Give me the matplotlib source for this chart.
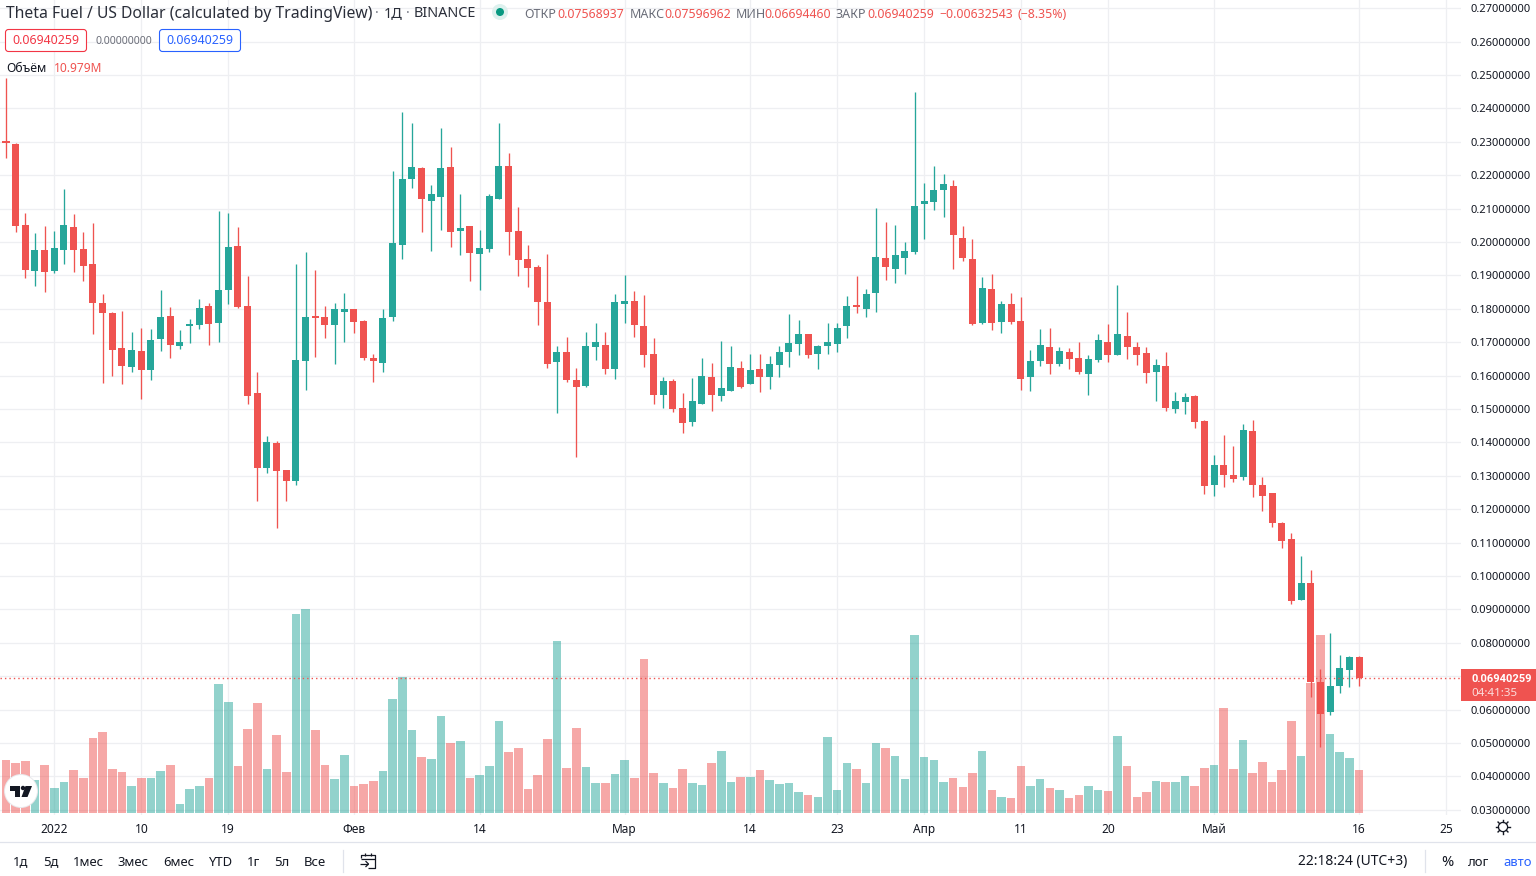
import numpy as np
import matplotlib
matplotlib.use("Agg")
import matplotlib.pyplot as plt
from matplotlib.patches import Circle, FancyBboxPatch, Polygon, Rectangle
from matplotlib.transforms import Bbox

# Daily THETA FUEL / USD candles, 27 Dec 2021 to 16 May 2022; prices in thousandths of a dollar
high = [249.0,229.6,208.7,202.7,204.8,203.3,215.9,208.4,203.0,205.7,184.4,179.0,179.3,173.1,174.3,174.0,185.6,180.5,173.7,177.0,
        182.9,181.7,209.3,208.7,204.5,189.8,161.1,141.9,140.4,131.7,193.4,197.0,191.6,180.8,181.7,184.7,179.9,176.6,166.5,179.9,
        221.3,238.9,235.6,222.5,217.1,234.1,228.4,214.4,204.8,203.6,214.4,235.6,226.6,210.5,199.1,193.1,196.4,168.9,171.6,162.3,
        173.1,175.8,173.1,184.4,190.1,185.3,184.1,171.3,159.6,159.0,154.8,159.3,165.3,163.8,170.4,168.9,164.4,166.5,166.5,165.9,
        168.9,178.4,176.6,172.5,169.2,175.8,175.8,183.8,189.8,185.9,210.2,206.0,205.1,200.0,244.9,217.7,222.8,220.4,218.6,204.8,
        200.9,189.5,190.4,182.3,184.7,183.5,167.7,174.0,174.3,168.6,168.3,170.1,166.2,172.5,175.5,187.1,179.0,170.1,168.6,165.0,
        167.1,155.1,154.8,154.2,146.7,136.2,142.2,138.9,145.5,146.7,129.6,124.8,116.2,112.9,106.0,101.8,72.2,82.9,76.4,76.0,75.97]
low = [225.2,203.0,189.2,186.8,185.0,190.7,193.4,191.0,188.3,172.5,157.8,159.9,157.5,161.1,153.0,158.7,167.4,165.3,168.0,169.8,
       174.0,169.2,170.1,181.4,180.2,151.5,122.5,130.8,114.4,122.5,127.2,155.7,165.6,171.3,163.5,170.1,172.8,164.7,158.1,161.1,
       176.3,194.9,216.2,203.0,197.3,203.6,198.5,196.1,188.3,185.6,197.0,212.9,196.1,189.8,186.5,175.2,162.3,148.8,158.1,135.6,
       156.6,164.7,160.5,159.0,175.8,171.6,162.6,151.5,150.3,149.1,142.8,144.9,151.5,149.4,152.4,155.4,156.3,157.5,155.1,156.0,
       159.6,162.6,166.2,165.3,162.0,166.5,167.1,171.3,178.7,177.5,179.0,188.6,187.7,190.4,196.4,200.9,209.6,207.5,191.9,194.3,
       175.2,175.5,173.7,172.8,175.5,155.7,155.4,162.9,160.5,162.9,162.0,160.5,154.2,164.1,164.1,166.2,165.0,163.2,157.8,152.4,
       149.4,148.8,148.5,144.3,124.5,124.0,126.7,128.1,128.7,123.7,119.5,114.7,108.4,91.6,92.8,63.8,48.8,58.4,65.0,66.8,66.94]
open_ = [230.2,229.3,205.1,191.3,197.6,191.3,197.6,204.5,197.9,193.4,181.7,178.7,168.3,162.6,167.4,161.7,171.0,177.8,168.9,174.9,
         175.2,180.8,175.8,185.6,198.8,180.8,154.8,132.3,139.8,131.7,128.4,164.4,177.5,177.5,175.2,179.0,179.9,176.3,165.3,163.8,
         177.5,199.1,218.9,222.2,212.3,213.5,222.5,203.3,204.8,196.4,197.9,212.9,222.8,203.3,194.9,192.5,182.0,164.1,167.1,158.7,
         156.9,168.6,169.2,162.0,181.4,182.3,174.9,166.5,154.2,158.4,150.3,146.1,151.5,159.6,153.9,155.4,162.3,157.5,162.0,159.6,
         163.2,167.1,169.5,172.5,166.5,168.9,169.5,174.9,180.8,179.9,184.7,195.2,191.9,195.2,197.0,211.4,212.0,215.6,216.8,201.2,
         194.9,175.8,185.9,176.1,181.4,176.4,159.6,164.4,168.6,163.5,167.1,165.3,160.5,164.7,170.1,166.2,171.9,168.6,166.8,161.1,
         162.9,150.0,152.1,153.9,146.4,127.2,133.2,130.2,129.6,143.4,127.2,124.8,115.9,111.1,92.8,97.9,68.3,59.3,67.1,71.9,75.69]
close = [229.7,204.8,191.6,197.6,191.0,198.2,205.1,197.6,192.8,181.7,178.7,167.7,162.9,167.7,161.7,170.7,177.5,169.2,170.1,175.5,
         180.2,175.5,185.6,198.5,180.5,153.9,132.3,140.1,131.4,128.4,164.7,177.5,177.2,175.2,179.9,179.9,176.1,165.3,164.4,177.2,
         199.7,218.9,222.5,212.9,214.4,222.2,203.0,204.2,196.7,198.2,213.8,222.8,203.0,194.6,192.2,182.0,163.5,167.1,158.7,156.6,
         168.9,170.1,162.0,182.0,182.3,175.2,166.2,154.2,158.4,150.0,145.8,152.4,159.9,154.2,156.3,162.6,156.6,161.7,159.6,163.5,
         167.1,169.8,172.5,166.2,168.9,170.1,174.3,180.8,180.5,184.4,195.5,192.5,196.1,197.3,210.8,212.3,215.6,217.4,202.1,195.2,
         175.5,186.2,175.8,181.4,176.1,159.0,164.4,169.2,163.5,167.4,165.0,161.1,165.0,170.7,166.2,172.5,168.6,166.2,160.8,163.2,
         150.3,152.4,153.6,146.1,126.9,133.2,130.2,129.0,143.7,127.2,124.0,115.9,110.5,92.5,97.9,68.3,58.7,67.1,72.5,75.8,69.40259]
# Traded volume, millions of tokens
volume = [13.5,12.8,13.3,8.4,12.3,6.4,7.9,11.0,8.9,19.1,20.7,11.2,10.5,6.9,8.9,8.9,10.7,12.3,2.3,6.1,
          6.9,8.9,32.9,28.3,12.0,21.4,28.1,11.2,19.9,10.5,50.8,52.1,21.2,12.3,8.7,14.8,6.9,7.4,8.2,10.7,
          29.1,34.7,21.2,14.3,13.8,24.8,17.9,18.4,8.9,9.7,12.0,23.5,15.6,16.6,6.1,9.7,18.9,43.9,11.5,21.7,
          11.7,7.7,7.7,10.0,13.5,8.9,39.3,10.2,7.7,6.4,11.2,7.7,7.1,12.8,15.8,7.9,9.2,9.2,11.0,8.4,
          7.4,7.7,5.4,4.6,4.1,19.4,5.9,12.8,11.2,7.7,17.9,16.6,14.6,8.7,45.4,14.3,13.5,7.9,8.9,6.6,
          10.2,15.8,5.9,4.1,3.8,12.0,6.9,8.7,6.4,5.9,3.8,4.6,6.9,5.9,5.6,19.7,12.0,4.1,5.4,8.2,
          7.9,7.9,9.4,6.9,11.5,12.3,26.8,11.2,18.6,10.2,13.0,7.9,11.0,23.5,14.6,33.2,45.4,20.2,15.6,14.0,10.979]
# Session index of each date label on the time scale
date_ticks = [5, 14, 23, 36, 49, 64, 77, 86, 95, 105, 114, 125, 140, 149]
date_labels = ["2022", "10", "19", "Фев", "14", "Мар", "14", "23", "Апр", "11", "20", "Май", "16", "25"]
price_ticks = [0.03, 0.04, 0.05, 0.06, 0.07, 0.08, 0.09, 0.10, 0.11, 0.12, 0.13, 0.14, 0.15,
               0.16, 0.17, 0.18, 0.19, 0.20, 0.21, 0.22, 0.23, 0.24, 0.25, 0.26, 0.27]
last_price = 0.06940259
range_buttons = [("1д", 21), ("5д", 51), ("1мес", 88), ("3мес", 133), ("6мес", 179),
                 ("YTD", 221), ("1г", 254), ("5л", 282), ("Все", 315)]

WIDTH, HEIGHT = 1536, 876
UP, DOWN = "#26A69A", "#EF5350"
TEXT = "#131722"
GRID = "#EEEFF2"
FONT = "Noto Sans"
plt.rcParams["font.family"] = FONT

high, low, open_, close = [np.array(a) / 1000 for a in (high, low, open_, close)]
volume = np.array(volume)
sessions = np.arange(len(close))
colors = np.where(close < open_, DOWN, UP)

fig = plt.figure(figsize=(WIDTH / 100, HEIGHT / 100), dpi=100, facecolor="white")
pane_right, pane_bottom = 1461, 815
rect = [0, 1 - pane_bottom / HEIGHT, pane_right / WIDTH, pane_bottom / HEIGHT]

# Scale: 9.665 px per session, 3340 px per dollar, volume baseline just above the pane edge
step = 9.665
xlim = (-6 / step, (pane_right - 6) / step)
ylim = (0.25 - 740 / 3340, 0.25 + 75 / 3340)
vol_per_px = 10.979 / 43

base = fig.add_axes(rect, zorder=1)
base.set_xlim(xlim)
base.set_ylim(ylim)
base.yaxis.tick_right()
base.set_xticks(date_ticks, date_labels)
base.set_yticks(price_ticks, [f"{p:.8f}" for p in price_ticks])
base.grid(True, color=GRID, lw=0.9)
base.set_axisbelow(True)
base.tick_params(axis="both", length=0, labelcolor=TEXT)
base.tick_params(axis="x", pad=6, labelsize=8.6)
base.tick_params(axis="y", pad=6.8, labelsize=8.05)
for side in base.spines.values():
    side.set_visible(False)
clip = Bbox([[pane_right, HEIGHT - 814], [WIDTH, HEIGHT]])
for label in base.get_yticklabels():
    label.set_clip_box(clip)
    label.set_clip_on(True)

vol_ax = fig.add_axes(rect, zorder=2, sharex=base)
vol_ax.set_ylim(-2 * vol_per_px, 813 * vol_per_px)
vol_ax.axis("off")
vol_ax.bar(sessions, volume, width=0.89, color=colors, alpha=0.5, linewidth=0)

candle_ax = fig.add_axes(rect, zorder=3, sharex=base, sharey=base)
candle_ax.axis("off")
candle_ax.plot(xlim, [last_price, last_price], color=DOWN, lw=1.0, ls=(0, (1, 2.2)))
candle_ax.vlines(sessions, low, high, colors=colors, lw=0.95)
body_low = np.minimum(open_, close)
body_height = np.maximum(np.abs(open_ - close), 0.0005)
candle_ax.bar(sessions, body_height, bottom=body_low, width=0.725, color=colors, linewidth=0)

# Chrome and legends are laid out in screen pixels, origin at the top left
ui = fig.add_axes([0, 0, 1, 1], zorder=4)
ui.set_xlim(0, WIDTH)
ui.set_ylim(HEIGHT, 0)
ui.axis("off")


def label(x, y, s, color=TEXT, size=8.6, ha="left", **kw):
    return ui.text(x, y, s, color=color, fontsize=size, ha=ha, va="center", **kw)


# Symbol header
label(6.5, 13.5, "Theta Fuel / US Dollar (calculated by TradingView)", size=11.3, color="#2A2E39")
label(375, 13.5, "·", color="#787B86", size=10.4)
label(384, 13.5, "1Д", size=10.4, color="#2A2E39")
label(406, 13.5, "·", color="#787B86", size=10.4)
label(414, 13.5, "BINANCE", size=10.4, color="#2A2E39")
ui.add_patch(Circle((500, 12), 8, color="#DDF1EE", lw=0))
ui.add_patch(Circle((500, 12), 4, color="#089981", lw=0))

# OHLC read-out
for x, s in [(524.5, "ОТКР"), (630, "МАКС"), (736, "МИН"), (836, "ЗАКР")]:
    label(x, 15, s, color="#6A6D78", size=9.0)
for x, s in [(557.5, "0.07568937"), (664, "0.07596962"), (764, "0.06694460"), (867, "0.06940259"),
             (939, "−0.00632543"), (1017, "(−8.35%)")]:
    label(x, 15, s, color=DOWN, size=8.85)

# Bid / spread / ask chips
for x0, edge in [(5.5, "#F23645"), (159.5, "#2962FF")]:
    ui.add_patch(FancyBboxPatch((x0 + 2, 31.5), 77, 18, boxstyle="round,pad=2,rounding_size=3",
                                fc="white", ec=edge, lw=0.8))
label(46, 41, "0.06940259", color="#F23645", size=8.9, ha="center")
label(123.5, 41, "0.00000000", color="#6A6D78", size=7.6, ha="center")
label(200, 41, "0.06940259", color="#2962FF", size=8.9, ha="center")

# Volume legend
label(6, 69, "Объём", size=8.8)
label(54, 69, "10.979M", color=DOWN, size=8.6)

# Last-price tag
ui.add_patch(Rectangle((1461, 669), 75, 32, color=DOWN, lw=0))
label(1471, 679, "0.06940259", color="white", size=8.0, family="Roboto", fontweight="bold")
label(1471, 693, "04:41:35", color="#FBDDDC", size=8.3)

# Logo badge
ui.add_patch(Circle((21, 791), 17, fc="#E9E9EC", lw=0))
ui.add_patch(Circle((21, 791), 16, fc="white", lw=0))
ui.add_patch(Polygon([(10, 786), (20, 786), (20, 797), (15, 797), (15, 790.5), (10, 790.5)], fc=TEXT, lw=0))
ui.add_patch(Circle((23, 788), 2.2, fc=TEXT, lw=0))
ui.add_patch(Polygon([(25.5, 786), (32, 786), (27.5, 797), (21.5, 797)], fc=TEXT, lw=0))

# Toolbar under the time scale
ui.plot([0, WIDTH], [841.5, 841.5], color="#E0E3EB", lw=0.9)
for s, x in range_buttons:
    label(x, 862, s, size=9.4, ha="center")
ui.plot([342.5, 342.5], [850, 872], color="#E0E3EB", lw=0.9)
label(1407, 862, "22:18:24 (UTC+3)", size=10.0, ha="right")
ui.plot([1424.5, 1424.5], [850, 872], color="#E0E3EB", lw=0.9)
label(1447, 862, "%", size=10.5, ha="center")
label(1479, 862, "лог", size=9.4, ha="center")
label(1518, 862, "авто", color="#2962FF", size=9.4, ha="center")

# Date-range icon
icon = dict(color=TEXT, lw=0.9, solid_capstyle="butt")
ui.plot([361, 361, 375, 375, 368], [858, 854.5, 854.5, 868, 868], **icon)
ui.plot([361, 375], [858.5, 858.5], **icon)
ui.plot([365, 365], [853, 856], **icon)
ui.plot([371, 371], [853, 856], **icon)
ui.plot([360, 368], [864, 864], **icon)
ui.plot([365.5, 368.5, 365.5], [861, 864, 867], **icon)

# Scale settings gear
ui.add_patch(Circle((1503, 827), 4.6, fc="none", ec=TEXT, lw=0.9))
for ang in np.deg2rad(np.arange(0, 360, 45)):
    ui.plot([1503 + 4.6 * np.cos(ang), 1503 + 7 * np.cos(ang)],
            [827 + 4.6 * np.sin(ang), 827 + 7 * np.sin(ang)], color=TEXT, lw=1.0)

fig.savefig("out.png", dpi=100)
